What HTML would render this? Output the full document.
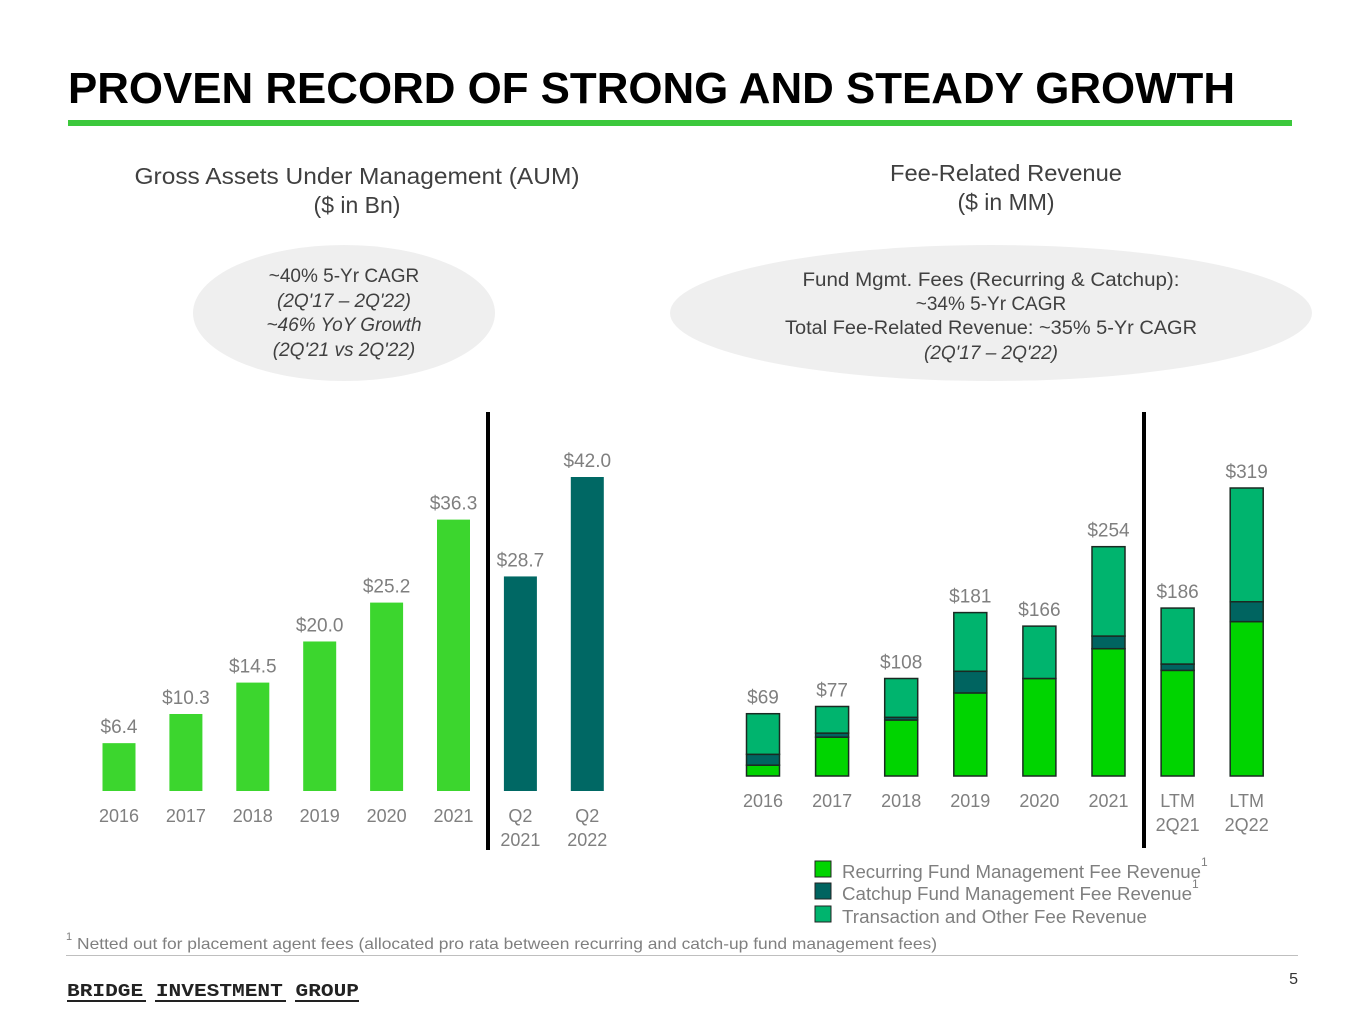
<!DOCTYPE html>
<html><head><meta charset="utf-8"><style>
html,body{margin:0;padding:0;background:#fff;}
svg{display:block;font-family:"Liberation Sans",sans-serif;}
.t{fill:#404040;}
.g{fill:#7f7f7f;}
</style></head><body>
<svg id="svg" width="1365" height="1024" viewBox="0 0 1365 1024">
<text x="68" y="103" font-size="44" font-weight="bold" fill="#000" textLength="1167" lengthAdjust="spacingAndGlyphs">PROVEN RECORD OF STRONG AND STEADY GROWTH</text>
<rect x="68" y="120" width="1224" height="6" fill="#3cc83c"/>

<g class="t" font-size="23" text-anchor="middle">
<text x="357" y="184" textLength="445" lengthAdjust="spacingAndGlyphs">Gross Assets Under Management (AUM)</text>
<text x="357" y="213">($ in Bn)</text></g>
<g class="t" font-size="23" text-anchor="middle">
<text x="1006" y="181" textLength="232" lengthAdjust="spacingAndGlyphs">Fee-Related Revenue</text>
<text x="1006" y="210">($ in MM)</text></g>

<ellipse cx="344" cy="313" rx="151" ry="68" fill="#efefef"/>
<g class="t" font-size="19" text-anchor="middle">
<text x="344" y="282">~40% 5-Yr CAGR</text>
<text x="344" y="307" font-style="italic">(2Q'17 – 2Q'22)</text>
<text x="344" y="331" font-style="italic">~46% YoY Growth</text>
<text x="344" y="356" font-style="italic">(2Q'21 vs 2Q'22)</text></g>
<ellipse cx="991" cy="313" rx="321" ry="68" fill="#efefef"/>
<g class="t" font-size="19" text-anchor="middle">
<text x="991" y="286" textLength="377" lengthAdjust="spacingAndGlyphs">Fund Mgmt. Fees (Recurring &amp; Catchup):</text>
<text x="991" y="310">~34% 5-Yr CAGR</text>
<text x="991" y="334" textLength="412" lengthAdjust="spacingAndGlyphs">Total Fee-Related Revenue: ~35% 5-Yr CAGR</text>
<text x="991" y="359" font-style="italic">(2Q'17 – 2Q'22)</text></g>

<g id="aum"></g>
<g id="fee"></g>
<rect x="486" y="412" width="4" height="438" fill="#000"/>
<rect x="1142" y="412" width="4" height="436" fill="#000"/>

<g class="g" font-size="18">
<rect x="815" y="861" width="16" height="16" fill="#00d400" stroke="#222"/>
<text x="842" y="878" textLength="359" lengthAdjust="spacingAndGlyphs">Recurring Fund Management Fee Revenue</text>
<text x="1201" y="866" font-size="12">1</text>
<rect x="815" y="883" width="16" height="16" fill="#006460" stroke="#222"/>
<text x="842" y="900" textLength="350" lengthAdjust="spacingAndGlyphs">Catchup Fund Management Fee Revenue</text>
<text x="1192" y="888" font-size="12">1</text>
<rect x="815" y="906" width="16" height="16" fill="#00b46e" stroke="#222"/>
<text x="842" y="923" textLength="305" lengthAdjust="spacingAndGlyphs">Transaction and Other Fee Revenue</text></g>

<g class="g"><text x="66" y="940" font-size="11">1</text>
<text x="77" y="949" font-size="16" textLength="860" lengthAdjust="spacingAndGlyphs">Netted out for placement agent fees (allocated pro rata between recurring and catch-up fund management fees)</text></g>
<rect x="66" y="955" width="1232" height="1" fill="#bfbfbf"/>
<text x="1298" y="984" font-size="16" fill="#333" text-anchor="end">5</text>
<g font-family="Liberation Mono,monospace" font-weight="bold" font-size="18" fill="#222">
<text x="67" y="996" textLength="292" lengthAdjust="spacingAndGlyphs">BRIDGE INVESTMENT GROUP</text>
<rect x="67" y="1000" width="79" height="2"/><rect x="155" y="1000" width="131" height="2"/><rect x="295" y="1000" width="64" height="2"/></g>
</svg>
<script>
const aumCats=["2016","2017","2018","2019","2020","2021","Q2|2021","Q2|2022"];
const aumVals=[6.4,10.3,14.5,20.0,25.2,36.3,28.7,42.0];
const aumLabels=["$6.4","$10.3","$14.5","$20.0","$25.2","$36.3","$28.7","$42.0"];
const feeCats=["2016","2017","2018","2019","2020","2021","LTM|2Q21","LTM|2Q22"];
const feeRecurring=[12,43,62,92,108,141,117,171];
const feeCatchup=[12,4.5,3,24,0,14,7,22];
const feeTransaction=[45,29.5,43,65,58,99,62,126];
const feeLabels=["$69","$77","$108","$181","$166","$254","$186","$319"];
const NS="http://www.w3.org/2000/svg";
function mk(tag,attrs,parent){const e=document.createElementNS(NS,tag);for(const k in attrs)e.setAttribute(k,attrs[k]);parent.appendChild(e);return e;}
const aumG=document.getElementById('aum');
const aumBase=791,aumScale=314/42;
const aumX=i=>119+i*66.9;
const aumY=v=>aumBase-v*aumScale;
aumVals.forEach((v,i)=>{
  const r=mk('rect',{x:aumX(i)-16.5,y:aumY(v),width:33,height:aumBase-aumY(v),fill:i>=6?'#006864':'#3cd62e'},aumG);
  
  
  const t=mk('text',{x:aumX(i),y:aumY(v)-10,'font-size':19,'text-anchor':'middle',fill:'#7f7f7f'},aumG);
  t.textContent=aumLabels[i];
  
  
  aumCats[i].split('|').forEach((s,j)=>{
    const c=mk('text',{x:aumX(i),y:822+j*24,'font-size':18,'text-anchor':'middle',fill:'#7f7f7f'},aumG);
    c.textContent=s;
    
    
  });
});
const feeG=document.getElementById('fee');
const feeBase=776,feeScale=288/319;
const feeX=i=>763+i*69.1;
const feeY=v=>feeBase-v*feeScale;
feeRecurring.forEach((r0,i)=>{
  const segs=[[feeRecurring[i],'#00d400','recurring'],[feeCatchup[i],'#006460','catchup'],[feeTransaction[i],'#00b46e','transaction']];
  let acc=0;
  segs.forEach(([v,col,nm])=>{
    if(v>0){
      const s=mk('rect',{x:feeX(i)-16.5,y:feeY(acc+v),width:33,height:v*feeScale,fill:col,stroke:'#1a2a22','stroke-width':1.5},feeG);
      
      
    }
    acc+=v;
  });
  const t=mk('text',{x:feeX(i),y:feeY(acc)-10,'font-size':19,'text-anchor':'middle',fill:'#7f7f7f'},feeG);
  t.textContent=feeLabels[i];
  
  
  feeCats[i].split('|').forEach((s,j)=>{
    const c=mk('text',{x:feeX(i),y:807+j*24,'font-size':18,'text-anchor':'middle',fill:'#7f7f7f'},feeG);
    c.textContent=s;
    
    
  });
});
</script>
</body></html>
